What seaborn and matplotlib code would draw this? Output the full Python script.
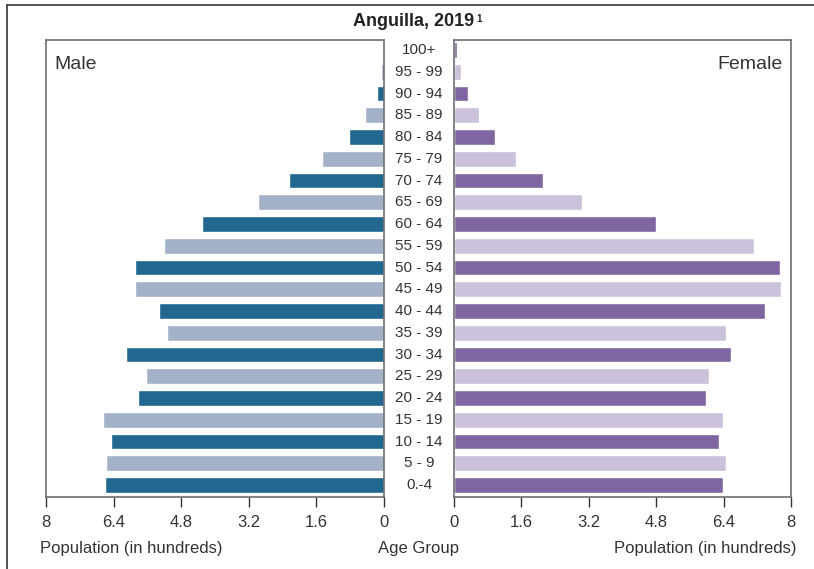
import matplotlib
matplotlib.use('Agg')
import matplotlib.pyplot as plt
import matplotlib.transforms as mtransforms
from matplotlib.lines import Line2D
import pandas as pd
import seaborn as sns

# Data (population in hundreds), top to bottom
age_groups = ['100+', '95 - 99', '90 - 94', '85 - 89', '80 - 84', '75 - 79', '70 - 74',
              '65 - 69', '60 - 64', '55 - 59', '50 - 54', '45 - 49', '40 - 44', '35 - 39',
              '30 - 34', '25 - 29', '20 - 24', '15 - 19', '10 - 14', '5 - 9', '0.-4']
male = [0.0, 0.07, 0.17, 0.44, 0.84, 1.46, 2.24, 2.98, 4.31, 5.21, 5.90,
        5.90, 5.33, 5.14, 6.11, 5.64, 5.83, 6.66, 6.47, 6.59, 6.61]
female = [0.07, 0.17, 0.33, 0.59, 0.97, 1.47, 2.11, 3.04, 4.80, 7.13, 7.74,
          7.77, 7.39, 6.46, 6.58, 6.06, 5.99, 6.39, 6.29, 6.46, 6.39]
xticks = [0, 1.6, 3.2, 4.8, 6.4, 8]
xtick_labels = ['0', '1.6', '3.2', '4.8', '6.4', '8']

male_colors = ['#21678f', '#a3b1c9']
female_colors = ['#8066a0', '#cbc1db']

df = pd.DataFrame({'age': age_groups, 'male': male, 'female': female})

sns.set_style('white')
plt.rcParams['font.family'] = ['Liberation Sans', 'DejaVu Sans']

W, H = 814, 569
fig = plt.figure(figsize=(W / 100, H / 100), dpi=100)
fig.patch.set_facecolor('white')

def box(x0, x1, y0=40, y1=497):
    """Axes rectangle from pixel edges."""
    return [x0 / W, (H - y1) / H, (x1 - x0) / W, (y1 - y0) / H]

ax_m = fig.add_axes(box(46, 384))
ax_f = fig.add_axes(box(454, 791))

n = len(age_groups)
pal_m = [male_colors[i % 2] for i in range(n)]
pal_f = [female_colors[i % 2] for i in range(n)]

sns.barplot(data=df, x='male', y='age', hue='age', palette=pal_m, order=age_groups,
            hue_order=age_groups, orient='h', width=0.73, legend=False, ax=ax_m,
            saturation=1)
sns.barplot(data=df, x='female', y='age', hue='age', palette=pal_f, order=age_groups,
            hue_order=age_groups, orient='h', width=0.73, legend=False, ax=ax_f,
            saturation=1)

spine_col = '#6e6e6e'
for ax in (ax_m, ax_f):
    ax.set_ylim(n - 1 + 0.55, -0.46)
    ax.set_yticks([])
    ax.set_ylabel('')
    ax.set_xlabel('')
    ax.set_xticks(xticks)
    ax.set_xticklabels(xtick_labels)
    ax.tick_params(axis='x', direction='out', length=7, width=1, color='#333333',
                   labelsize=12, labelcolor='#333333', pad=6, bottom=True)
    for s in ax.spines.values():
        s.set_visible(True)
        s.set_color(spine_col)
        s.set_linewidth(1.2)

ax_m.set_xlim(8, 0)
ax_f.set_xlim(0, 8)

ax_m.text(0.025, 0.965, 'Male', transform=ax_m.transAxes, ha='left', va='top',
          fontsize=14, color='#333333')
ax_f.text(0.975, 0.965, 'Female', transform=ax_f.transAxes, ha='right', va='top',
          fontsize=14, color='#333333')

# age group labels in the gap between panels
trans = mtransforms.blended_transform_factory(fig.transFigure, ax_m.transData)
for i, lab in enumerate(age_groups):
    ax_m.text(419 / W, i, lab, transform=trans, ha='center', va='center',
              fontsize=11, color='#333333', clip_on=False)

# title with small superscript footnote mark
title = fig.text(414 / W, 1 - 22 / H, 'Anguilla, 2019', ha='center', va='center',
                 fontsize=13, fontweight='bold', color='#222222')
ax_m.annotate('1', xy=(1, 1), xycoords=title, xytext=(1, 0), textcoords='offset points',
              ha='left', va='top', fontsize=7, fontweight='bold', color='#222222',
              annotation_clip=False)

fig.text(40 / W, 1 - 549 / H, 'Population (in hundreds)', ha='left', va='center',
         fontsize=12, color='#333333')
fig.text(419 / W, 1 - 549 / H, 'Age Group', ha='center', va='center',
         fontsize=12, color='#333333')
fig.text(796 / W, 1 - 549 / H, 'Population (in hundreds)', ha='right', va='center',
         fontsize=12, color='#333333')

# outer frame: top and left edges only
fig.lines.append(Line2D([7 / W, 7 / W], [0, 1 - 5 / H], transform=fig.transFigure,
                        color='#333333', linewidth=1.2))
fig.lines.append(Line2D([7 / W, 1], [1 - 5 / H, 1 - 5 / H], transform=fig.transFigure,
                        color='#333333', linewidth=1.2))

fig.savefig('out.png', dpi=100, facecolor='white')
